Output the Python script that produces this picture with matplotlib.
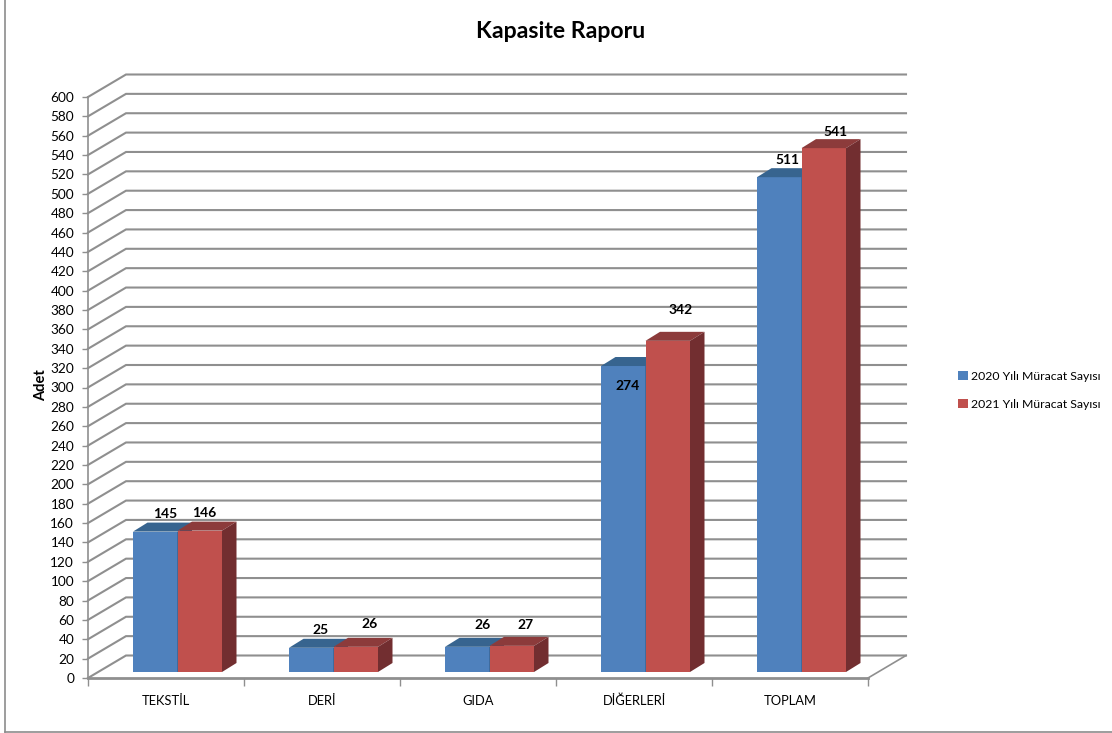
import matplotlib
matplotlib.use("Agg")
import matplotlib.pyplot as plt
from matplotlib.lines import Line2D
from matplotlib.patches import Patch, Polygon

categories = ["TEKSTİL", "DERİ", "GIDA", "DİĞERLERİ", "TOPLAM"]
series_names = ["2020 Yılı Müracat Sayısı", "2021 Yılı Müracat Sayısı"]
# bar heights as drawn; the 2020 DİĞERLERİ bar is taller than its label says
bars_2020 = [145, 25, 26, 316, 511]
bars_2021 = [146, 26, 27, 342, 541]
labels_2020 = [145, 25, 26, 274, 511]
labels_2021 = [146, 26, 27, 342, 541]
y_ticks = list(range(0, 601, 20))

# -------------------------------------------------------------------------
# Fake 3D geometry, all measured in pixels on the reference
# -------------------------------------------------------------------------
W, H = 1112, 733
AX_LEFT, AX_RIGHT, AX_BOTTOM, AX_TOP = 88, 868, 678, 97
PX_X = (AX_RIGHT - AX_LEFT) / len(categories)
PX_Y = (AX_BOTTOM - AX_TOP) / 600

WALL_DX = 38 / PX_X
WALL_DY = 22.5 / PX_Y
BAR_W = 44.5 / PX_X
BAR_SHIFT = 11.5 / PX_X
BAR_BASE = 6 / PX_Y
SIDE_DX = 14.5 / PX_X
SIDE_DY = 9 / PX_Y

GRID = "#8f8f8f"
BLUE, BLUE_TOP, BLUE_SIDE = "#4f81bd", "#37648f", "#2f5680"
RED, RED_TOP, RED_SIDE = "#c0504d", "#8c3b3b", "#722e30"

# label offsets from the bar's top centre, in pixels
offs_2020 = [(10, 18), (9, 18), (15, 22), (4, -20), (8, 17)]
offs_2021 = [(4, 18), (14, 23), (14, 21), (13, 31), (12, 16)]

plt.rcParams["font.family"] = ["Lato", "DejaVu Sans"]

fig = plt.figure(figsize=(W / 100, H / 100), dpi=100)
ax = fig.add_axes([AX_LEFT / W, 1 - AX_BOTTOM / H,
                   (AX_RIGHT - AX_LEFT) / W, (AX_BOTTOM - AX_TOP) / H])
ax.set_xlim(0, len(categories))
ax.set_ylim(0, 600)

# walls: each gridline runs up the side wall, then along the back wall
for v in y_ticks:
    ax.plot([0, WALL_DX, len(categories) + WALL_DX], [v, v + WALL_DY, v + WALL_DY],
            color=GRID, lw=1.5, clip_on=False, zorder=1, solid_joinstyle="miter")
ax.plot([len(categories), len(categories) + WALL_DX], [0, WALL_DY],
        color=GRID, lw=1.2, clip_on=False, zorder=1)


def draw_bars(values, labels, offs, shift, front, top, side, z):
    for i, val in enumerate(values):
        x0 = i + 0.5 + BAR_SHIFT + shift
        x1 = x0 + BAR_W
        y0 = BAR_BASE
        y1 = BAR_BASE + val
        ax.bar(x0, val, BAR_W, bottom=y0, align="edge", color=front, clip_on=False, zorder=z)
        ax.add_patch(Polygon([(x0, y1), (x1, y1), (x1 + SIDE_DX, y1 + SIDE_DY), (x0 + SIDE_DX, y1 + SIDE_DY)],
                             closed=True, facecolor=top, edgecolor="none", clip_on=False, zorder=z))
        ax.add_patch(Polygon([(x1, y0), (x1 + SIDE_DX, y0 + SIDE_DY), (x1 + SIDE_DX, y1 + SIDE_DY), (x1, y1)],
                             closed=True, facecolor=side, edgecolor="none", clip_on=False, zorder=z))
        ax.annotate(str(labels[i]), xy=((x0 + x1) / 2, y1), xytext=offs[i], textcoords="offset pixels",
                    ha="center", va="center", fontsize=10, fontweight="bold", color="black",
                    annotation_clip=False, zorder=10)


draw_bars(bars_2020, labels_2020, offs_2020, -BAR_W, BLUE, BLUE_TOP, BLUE_SIDE, 3)
draw_bars(bars_2021, labels_2021, offs_2021, 0, RED, RED_TOP, RED_SIDE, 4)

# Axes
for s in ["top", "right"]:
    ax.spines[s].set_visible(False)
ax.spines["left"].set_color(GRID)
ax.spines["left"].set_linewidth(1.2)
ax.spines["bottom"].set_color(GRID)
ax.spines["bottom"].set_linewidth(2.0)

ax.set_yticks(y_ticks)
ax.tick_params(axis="y", length=4, width=1.0, color=GRID, labelsize=9.8, pad=6, labelcolor="black")
ax.set_xticks([i + 0.5 for i in range(len(categories))])
ax.set_xticklabels(categories)
ax.set_xticks(range(len(categories) + 1), minor=True)
ax.tick_params(axis="x", which="major", length=0, labelsize=9.3, pad=12, labelcolor="black")
ax.tick_params(axis="x", which="minor", length=6, width=1.0, color=GRID)

fig.text(41 / W, 1 - 385 / H, "Adet", rotation=90, ha="center", va="center", fontsize=10.5, fontweight="bold")
fig.text(561 / W, 1 - 32 / H, "Kapasite Raporu", ha="center", va="center", fontsize=16.6, fontweight="bold")

handles = [Patch(facecolor=BLUE, label=series_names[0]), Patch(facecolor=RED, label=series_names[1])]
fig.legend(handles=handles, loc="center left", bbox_to_anchor=(956 / W, 1 - 390.5 / H), frameon=False,
           fontsize=8.8, handlelength=0.8, handleheight=0.8, handletextpad=0.2, labelspacing=1.4,
           borderpad=0.2, borderaxespad=0)

# image frame
fig.add_artist(Line2D([5 / W, 5 / W], [1 - 732 / H, 1], color="#8c8c8c", lw=1.2))
fig.add_artist(Line2D([5 / W, 1], [1 - 732 / H, 1 - 732 / H], color="#8c8c8c", lw=1.2))

fig.savefig("out.png", dpi=100)
plt.close(fig)
